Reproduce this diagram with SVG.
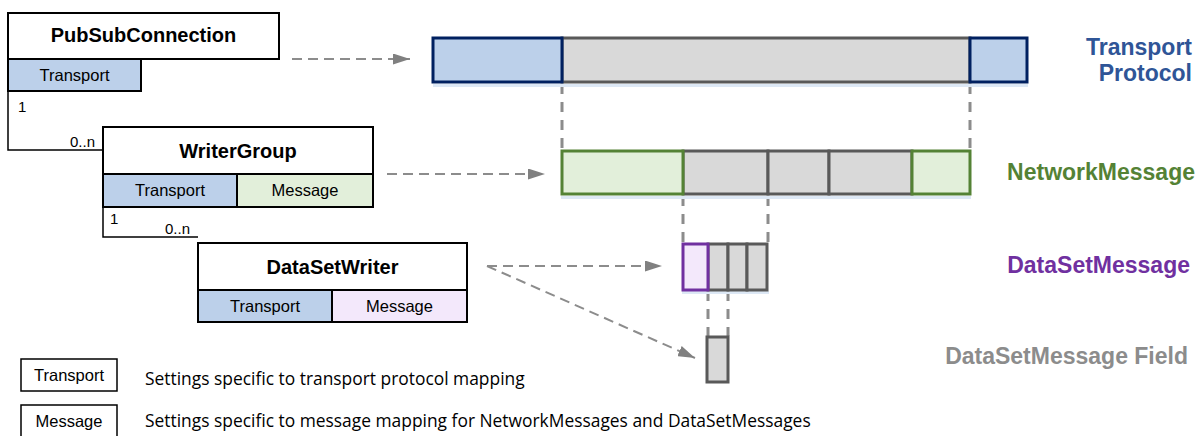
<svg xmlns="http://www.w3.org/2000/svg" width="1203" height="436" viewBox="0 0 1203 436">
<style>
.box{fill:#fff;stroke:#000;stroke-width:2}
.tr{fill:#BCD0EA;stroke:#000;stroke-width:2}
.mg{fill:#E2EFDA;stroke:#000;stroke-width:2}
.mp{fill:#F3E8FB;stroke:#000;stroke-width:2}
.title{font-family:"Liberation Sans",Arial,sans-serif;font-weight:bold;font-size:20px;fill:#000;text-anchor:middle}
.sub{font-family:"Liberation Sans",Arial,sans-serif;font-size:16.5px;fill:#000;text-anchor:middle}
.mult{font-family:"Liberation Sans",Arial,sans-serif;font-size:15px;fill:#000}
.line{fill:none;stroke:#000;stroke-width:1.5}
.dash{fill:none;stroke:#8c8c8c;stroke-width:2;stroke-dasharray:10,6}
.vdash{fill:none;stroke:#8c8c8c;stroke-width:3;stroke-dasharray:10,8}
.bl{fill:#BCD0EA;stroke:#002060;stroke-width:3}
.gr{fill:#D9D9D9;stroke:#595959;stroke-width:3}
.gn{fill:#E2EFDA;stroke:#548235;stroke-width:3}
.pu{fill:#F3E8FB;stroke:#7030A0;stroke-width:3}
.lbl{font-family:"Liberation Sans",Arial,sans-serif;font-weight:bold;font-size:23px}
.leg{font-family:"Open Sans","Liberation Sans",sans-serif;font-size:17.4px;fill:#000}
</style>
<defs>
<marker id="ah" markerWidth="17" markerHeight="11" refX="17" refY="5.5" orient="auto" markerUnits="userSpaceOnUse" viewBox="0 0 17 11">
<path d="M0,0 L17,5.5 L0,11 z" fill="#808080"/>
</marker>
</defs>

<g id="connectors">
<polyline class="line" points="8,91 8,150 103,150"/>
<polyline class="line" points="103,207 103,237 198,237"/>
<line class="dash" x1="292" y1="59" x2="410" y2="59" marker-end="url(#ah)"/>
<line class="dash" x1="387" y1="174" x2="545" y2="174" marker-end="url(#ah)"/>
<line class="dash" x1="487" y1="266" x2="662" y2="266" marker-end="url(#ah)"/>
<line class="dash" x1="487" y1="266" x2="695" y2="358" marker-end="url(#ah)"/>
<line class="vdash" x1="562" y1="84" x2="562" y2="149"/>
<line class="vdash" x1="970" y1="84" x2="970" y2="149"/>
<line class="vdash" x1="683" y1="196" x2="683" y2="242"/>
<line class="vdash" x1="768" y1="196" x2="768" y2="242"/>
<line class="vdash" x1="708" y1="291" x2="708" y2="336"/>
<line class="vdash" x1="728" y1="291" x2="728" y2="336"/>
</g>

<g id="pubsubconnection">
<rect class="box" x="8" y="13" width="271" height="46"/>
<text class="title" x="143.5" y="42">PubSubConnection</text>
<rect class="tr" x="8" y="59" width="133" height="32"/>
<text class="sub" x="74.5" y="81">Transport</text>
<text class="mult" x="18" y="112">1</text>
<text class="mult" x="70" y="147">0..n</text>
</g>

<g id="writergroup">
<rect class="box" x="103" y="127" width="270" height="47"/>
<text class="title" x="238" y="158">WriterGroup</text>
<rect class="tr" x="103" y="174" width="134" height="33"/>
<text class="sub" x="170" y="196">Transport</text>
<rect class="mg" x="237" y="174" width="136" height="33"/>
<text class="sub" x="305" y="196">Message</text>
<text class="mult" x="110" y="224">1</text>
<text class="mult" x="165" y="234">0..n</text>
</g>

<g id="datasetwriter">
<rect class="box" x="198" y="243" width="269" height="47"/>
<text class="title" x="332.5" y="274">DataSetWriter</text>
<rect class="tr" x="198" y="290" width="134" height="32"/>
<text class="sub" x="265" y="312">Transport</text>
<rect class="mp" x="332" y="290" width="135" height="32"/>
<text class="sub" x="399.5" y="312">Message</text>
</g>

<g id="transport-protocol">
<rect x="433" y="84" width="595" height="3" fill="#DDE8F5"/>
<rect class="gr" x="562" y="38" width="408" height="44"/>
<rect class="bl" x="433" y="38" width="129" height="44"/>
<rect class="bl" x="970" y="38" width="57" height="44"/>
<text class="lbl" x="1192" y="55" fill="#2F5597" text-anchor="end">Transport</text>
<text class="lbl" x="1192" y="81" fill="#2F5597" text-anchor="end">Protocol</text>
</g>

<g id="networkmessage">
<rect x="561" y="196" width="410" height="3" fill="#DDE8F5"/>
<rect class="gr" x="683" y="151" width="85" height="43"/>
<rect class="gr" x="768" y="151" width="61" height="43"/>
<rect class="gr" x="829" y="151" width="83" height="43"/>
<rect class="gn" x="562" y="151" width="121" height="43"/>
<rect class="gn" x="912" y="151" width="58" height="43"/>
<text class="lbl" x="1195" y="180" fill="#548235" text-anchor="end">NetworkMessage</text>
</g>

<g id="datasetmessage">
<rect x="682" y="291" width="87" height="3" fill="#DDE8F5"/>
<rect class="gr" x="708" y="244" width="20" height="46"/>
<rect class="gr" x="728" y="244" width="19" height="46"/>
<rect class="gr" x="747" y="244" width="20" height="46"/>
<rect class="pu" x="683" y="244" width="25" height="46"/>
<text class="lbl" x="1190" y="273" fill="#7030A0" text-anchor="end">DataSetMessage</text>
</g>

<g id="datasetmessage-field">
<rect class="gr" x="707" y="337" width="21" height="45"/>
<text class="lbl" x="1188" y="364" fill="#8c8c8c" text-anchor="end">DataSetMessage Field</text>
</g>

<g id="legend">
<rect x="21" y="359" width="96" height="32" fill="#fff" stroke="#000" stroke-width="1.5"/>
<text class="sub" x="69" y="381">Transport</text>
<text class="leg" x="145" y="385">Settings specific to transport protocol mapping</text>
<rect x="21" y="405" width="96" height="32" fill="#fff" stroke="#000" stroke-width="1.5"/>
<text class="sub" x="69" y="427">Message</text>
<text class="leg" x="145" y="427">Settings specific to message mapping for NetworkMessages and DataSetMessages</text>
</g>
</svg>
